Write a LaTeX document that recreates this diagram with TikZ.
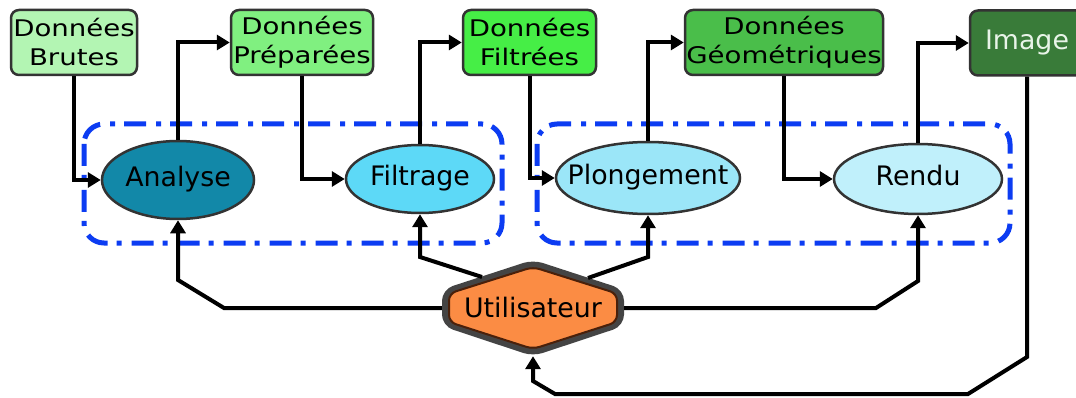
\documentclass[tikz,border=0pt]{standalone}
\usepackage{fontspec}
\setmainfont{DejaVu Sans}
\usepackage{graphicx}
\usetikzlibrary{shapes.geometric,arrows.meta}

\definecolor{boxedge}{HTML}{333333}
\definecolor{rawgreen}{HTML}{B3F5B3}
\definecolor{prepgreen}{HTML}{80F080}
\definecolor{filtgreen}{HTML}{46EE46}
\definecolor{geomgreen}{HTML}{4ABE4A}
\definecolor{imggreen}{HTML}{397B39}
\definecolor{imgtext}{HTML}{E8F4E8}
\definecolor{analysefill}{HTML}{1288A8}
\definecolor{filtragefill}{HTML}{5DD9F7}
\definecolor{plongfill}{HTML}{9BE6F8}
\definecolor{rendufill}{HTML}{C0F0FB}
\definecolor{userfill}{HTML}{FB8C44}
\definecolor{userring}{HTML}{444444}
\definecolor{userline}{HTML}{4A200A}
\definecolor{groupblue}{HTML}{0C3CF2}

\pgfdeclarelayer{back}
\pgfsetlayers{back,main}

% two-line labels of the data boxes are set slightly squashed
\newcommand\squash[1]{\scalebox{1}[0.83]{#1}}
% stage labels take no width, so the ellipse keeps its given size
\newcommand\stagelabel[1]{\makebox[0pt]{#1}}

\begin{document}
\begin{tikzpicture}[x=1pt,y=-1pt,
  databox/.style={draw=boxedge, line width=2.5pt, rounded corners=8pt,
    minimum height=65pt, inner sep=0pt, align=center,
    font=\fontsize{27.6}{29}\selectfont},
  stage/.style={ellipse, draw=boxedge, line width=2.5pt, inner sep=0pt,
    text height=20pt, text depth=6pt, font=\fontsize{26.8}{32}\selectfont},
  link/.style={line width=4pt},
  flow/.style={link, -{Triangle[length=13pt,width=15pt]}},
  group/.style={draw=groupblue, line width=5pt, rounded corners=20pt,
    dash pattern=on 22pt off 9pt on 5pt off 10pt}]

\useasboundingbox (0,0) rectangle (1076,398);

% data boxes
\node[databox, fill=rawgreen,  minimum width=126pt] (raw)  at (74,42.5)  {\squash{Données}\\\squash{Brutes}};
\node[databox, fill=prepgreen, minimum width=142pt] (prep) at (302,42.5) {\squash{Données}\\\squash{Préparées}};
\node[databox, fill=filtgreen, minimum width=133pt] (filt) at (529.5,42.5) {\squash{Données}\\\squash{Filtrées}};
\node[databox, fill=geomgreen, minimum width=198pt] (geom) at (784,42.5) {\squash{Données}\\\squash{Géométriques}};
\node[databox, fill=imggreen, text=imgtext, minimum width=114pt,
  font=\fontsize{26.8}{32}\selectfont,
  text height=20pt, text depth=6pt] (img) at (1027,43) {Image};

% processing stages
\draw[group] (84,124) rectangle (502,243);
\draw[group] (537,124) rectangle (1010,243);
\node[stage, fill=analysefill,  minimum width=152pt, minimum height=78pt] (an) at (178,180) {\stagelabel{Analyse}};
\node[stage, fill=filtragefill, minimum width=148pt, minimum height=68pt] (fi) at (420,179) {\stagelabel{Filtrage}};
\node[stage, fill=plongfill,    minimum width=184pt, minimum height=72pt] (pl) at (648,178) {\stagelabel{Plongement}};
\node[stage, fill=rendufill,    minimum width=168pt, minimum height=70pt] (re) at (918,179) {\stagelabel{Rendu}};

% user node: hexagon with a thick grey rim
\node[font=\fontsize{26.8}{32}\selectfont, minimum width=182pt, minimum height=96pt,
  inner sep=0pt] (util) at (533,308) {Utilisateur};
\begin{pgfonlayer}{back}
\begin{scope}[shift={(util.center)}]
  \draw[userring, line width=7pt, rounded corners=9pt]
    (0,-44.5) -- (87.5,-16) -- (87.5,15.5) -- (0,44.5) -- (-87.5,15.5) -- (-87.5,-16) -- cycle;
  \draw[userline, fill=userfill, line width=2pt, rounded corners=7pt]
    (0,-41) -- (84,-14.5) -- (84,14) -- (0,41) -- (-84,14) -- (-84,-14.5) -- cycle;
  \coordinate (util-nw) at (-51,-31);
  \coordinate (util-ne) at (55,-30);
\end{scope}
\end{pgfonlayer}

% data flow
\draw[flow] (raw.south)  |- (an.west);
\draw[flow] (an.north)   |- (prep.west);
\draw[flow] (prep.south) |- (fi.west);
\draw[flow] (fi.north)   |- (filt.west);
\draw[flow] (filt.south) |- (pl.west);
\draw[flow] (pl.north)   |- (geom.west);
\draw[flow] (geom.south) |- (re.west);
\draw[flow] (re.north)   |- (img.west);

% user interaction
\draw[flow] (util.west) -- (224,308) -- (178,280) -- (an.south);
\draw[flow] (util-nw) -- (420,257) -- (fi.south);
\draw[flow] (util-ne) -- (648,257) -- (pl.south);
\draw[flow] (util.east) -- (876,308) -- (918,281) -- (re.south);
\draw[flow] (img.south) -- (1027,357) -- (968,394) -- (555,394) -- (533,381) -- (util.south);

\end{tikzpicture}
\end{document}
